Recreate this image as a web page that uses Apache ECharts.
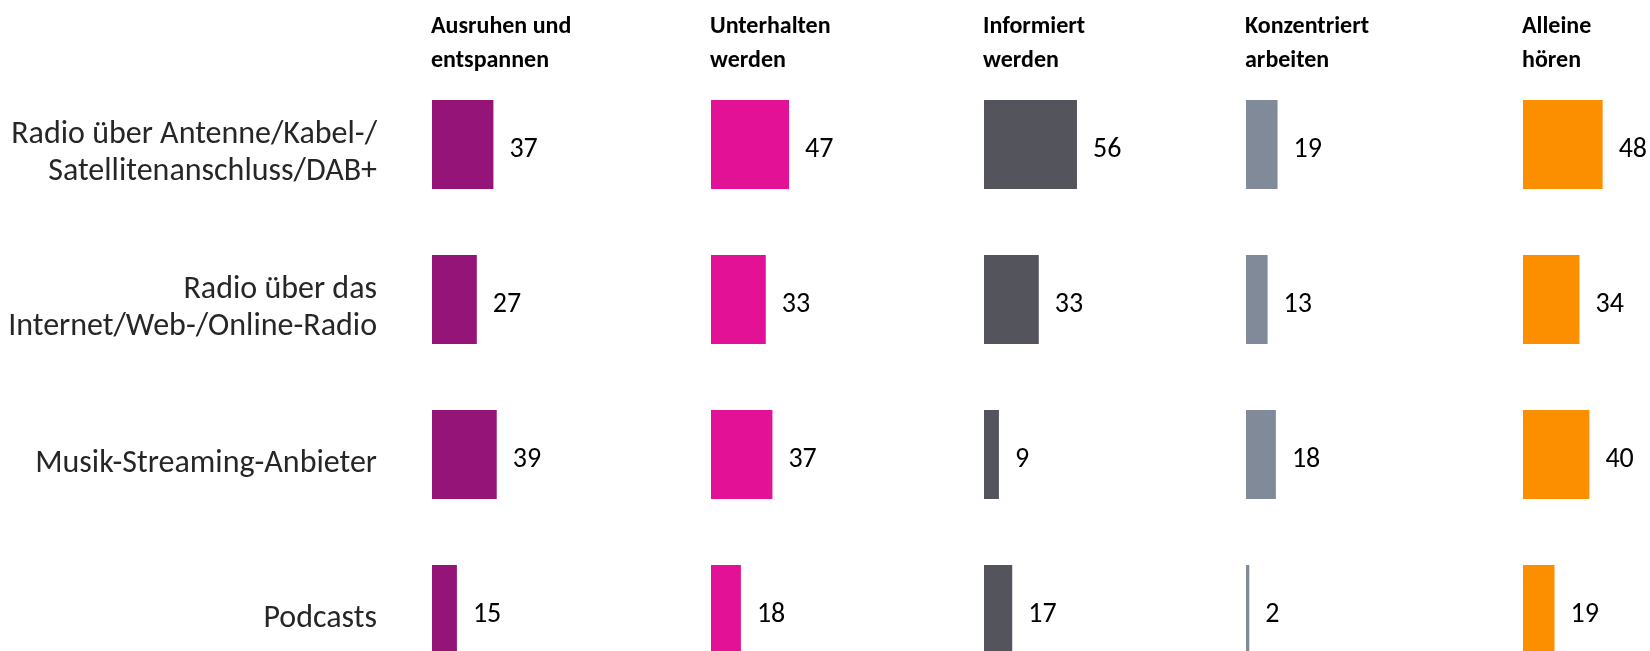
<!DOCTYPE html>
<html>
<head>
<meta charset="utf-8">
<script src="https://cdn.jsdelivr.net/npm/echarts@6/dist/echarts.min.js"></script>
<style>
  html, body { margin: 0; padding: 0; background: #fff; overflow: hidden; }
  #chart { width: 1650px; height: 720px; }
</style>
</head>
<body>
<div id="chart"></div>
<script>
let categories = [
  "Radio über Antenne/Kabel-/\nSatellitenanschluss/DAB+",
  "Radio über das\nInternet/Web-/Online-Radio",
  "Musik-Streaming-Anbieter",
  "Podcasts",
];
let headers = [
  "Ausruhen und\nentspannen",
  "Unterhalten\nwerden",
  "Informiert\nwerden",
  "Konzentriert\narbeiten",
  "Alleine\nhören",
];
let ausruhen = [37, 27, 39, 15];
let unterhalten = [47, 33, 37, 18];
let informiert = [56, 33, 9, 17];
let konzentriert = [19, 13, 18, 2];
let alleine = [48, 34, 40, 19];

let seriesData = [ausruhen, unterhalten, informiert, konzentriert, alleine];
let color = ["#951477", "#e31196", "#54545c", "#818a98", "#fb8f00"];
let lefts = [432, 711, 984, 1246, 1523];
let font = "Carlito, Calibri, Lato, sans-serif";

// canvas is taller than the window: the last row runs off the bottom like the original
let chart = echarts.init(document.getElementById("chart"));

// grids 0-4 hold the bars, grid 5 only carries the row labels (a little lower)
let grids = lefts.map((l) => ({ left: l, width: 99.6, top: 67, height: 620 }));
grids.push({ left: lefts[0], width: 99.6, top: 76, height: 620 });

let xAxes = grids.map((g, i) => ({
  type: "value",
  gridIndex: i,
  min: 0,
  max: 60,
  show: false,
}));

let yAxes = grids.map((g, i) => ({
  type: "category",
  gridIndex: i,
  data: categories,
  inverse: true,
  axisLine: { show: false },
  axisTick: { show: false },
  splitLine: { show: false },
  axisLabel: {
    show: i === 5,
    margin: 55,
    align: "right",
    fontFamily: font,
    fontSize: 32,
    lineHeight: 37,
    color: "#262626",
  },
}));

let option = {
  animation: false,
  title: headers.map((h, i) => ({
    text: h,
    left: lefts[i] - 1,
    top: 10,
    padding: 0,
    textStyle: {
      fontFamily: font,
      fontWeight: "bold",
      fontSize: 24,
      lineHeight: 34,
      color: "#000000",
    },
  })),
  grid: grids,
  xAxis: xAxes,
  yAxis: yAxes,
  series: seriesData.map((d, i) => ({
    type: "bar",
    xAxisIndex: i,
    yAxisIndex: i,
    data: d,
    barWidth: 89,
    itemStyle: { color: color[i] },
    label: {
      show: true,
      position: "right",
      distance: 16,
      offset: [0, 5],
      fontFamily: font,
      fontSize: 28,
      color: "#000000",
    },
  })),
};
chart.setOption(option);
</script>
</body>
</html>
